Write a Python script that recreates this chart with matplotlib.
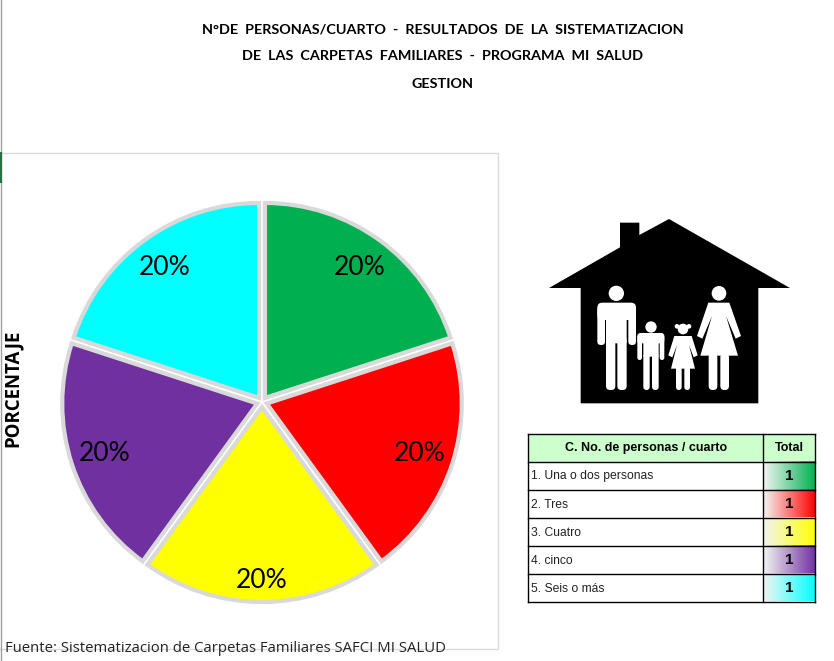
from matplotlib import pyplot as plt
from matplotlib.patches import Circle, FancyBboxPatch, Polygon, Rectangle
import numpy as np
from matplotlib.colors import to_rgb

# data
categorias = ["1. Una o dos personas", "2. Tres", "3. Cuatro", "4. cinco", "5. Seis o más"]
totales = [1, 1, 1, 1, 1]
colores = ["#00B050", "#FF0000", "#FFFF00", "#7030A0", "#00FFFF"]
encabezados = ["C. No. de personas / cuarto", "Total"]
titulo = ["N°DE  PERSONAS/CUARTO  -  RESULTADOS  DE  LA  SISTEMATIZACION",
          "DE  LAS  CARPETAS  FAMILIARES  -  PROGRAMA  MI  SALUD",
          "GESTION"]
fuente = "Fuente: Sistematizacion de Carpetas Familiares SAFCI MI SALUD"

W, H = 834, 661

fig = plt.figure(figsize=(W / 100, H / 100), dpi=100, facecolor="white")

# background layer, in pixel coordinates of the page
bg = fig.add_axes([0, 0, 1, 1], zorder=0)
bg.set_xlim(0, W)
bg.set_ylim(H, 0)
bg.axis("off")
bg.add_patch(Rectangle((-3, 153), 501, 496, fc="white", ec="#D9D9D9", lw=1))
bg.plot([0.5, 0.5], [0, H], color="#A0A0A0", lw=1)
bg.plot([0.5, 0.5], [153, 182], color="#217346", lw=1.5)

# pie
cx, cy, half = 262, 402, 220
ax = fig.add_axes([(cx - half) / W, 1 - (cy + half) / H, 2 * half / W, 2 * half / H], zorder=1)
ax.patch.set_alpha(0)
wedges, textos, pcts = ax.pie(
    totales, colors=colores, startangle=90, counterclock=False,
    explode=[0.025] * 5, radius=0.975, autopct="%1.0f%%", pctdistance=0.825,
    wedgeprops={"edgecolor": "#D9D9D9", "linewidth": 3},
    textprops={"fontsize": 19, "family": "Lato", "color": "black"},
)
# the bottom label sits lower than the others in the reference
pcts[2].set_y(pcts[2].get_position()[1] - 0.065)
ax.set_xlim(-1.1, 1.1)
ax.set_ylim(-1.1, 1.1)
ax.axis("off")

# top layer: title, table, house
top = fig.add_axes([0, 0, 1, 1], zorder=2)
top.patch.set_alpha(0)
top.set_xlim(0, W)
top.set_ylim(H, 0)
top.axis("off")

for linea, y in zip(titulo, [29, 56, 84]):
    top.text(443, y, linea, ha="center", va="center", fontsize=10.4, family="Lato",
             fontweight="bold", color="black")

top.text(13, 388, "PORCENTAJE", rotation=90, ha="center", va="center", fontsize=13.4,
         fontweight="bold", family="Open Sans")
top.text(5, 648, fuente, ha="left", va="center", fontsize=10.7, family="Open Sans", color="#222222")

# table
x0, x1, x2 = 528.5, 763, 815.5
filas_y = [434, 461.5, 489.5, 517.5, 545.5, 573.5, 601.5]
top.add_patch(Rectangle((x0, filas_y[0]), x2 - x0, filas_y[1] - filas_y[0], fc="#CCFFCC", ec="none"))
top.text((x0 + x1) / 2, (filas_y[0] + filas_y[1]) / 2 + 0.5, encabezados[0], ha="center", va="center",
         fontsize=9, fontweight="bold", family="Liberation Sans")
top.text((x1 + x2) / 2, (filas_y[0] + filas_y[1]) / 2 + 0.5, encabezados[1], ha="center", va="center",
         fontsize=9, fontweight="bold", family="Liberation Sans")
for i, (cat, tot, col) in enumerate(zip(categorias, totales, colores)):
    ya, yb = filas_y[i + 1], filas_y[i + 2]
    grad = np.linspace(0, 1, 64)[None, :, None]
    img = (1 - grad) * np.array([0.95, 0.96, 0.95]) + grad * np.array(to_rgb(col))
    top.imshow(img, extent=(x1, x2, yb, ya), aspect="auto", zorder=1)
    top.text(x0 + 3, (ya + yb) / 2 + 1, cat, ha="left", va="center", fontsize=8.7,
             family="Liberation Sans", color="#222222")
    top.text((x1 + x2) / 2, (ya + yb) / 2, str(tot), ha="center", va="center", fontsize=11,
             fontweight="bold", family="Liberation Sans", zorder=3)
for y in filas_y:
    top.plot([x0, x2], [y, y], color="black", lw=1, zorder=2)
for x in (x0, x1, x2):
    top.plot([x, x], [filas_y[0], filas_y[-1]], color="black", lw=1, zorder=2)
top.set_xlim(0, W)
top.set_ylim(H, 0)


# house icon, coordinates taken from the zoomed crop
def z(x, y):
    return 540 + x / 3, 210 + y / 3


def caja(xa, ya, xb, yb, r=6):
    a = z(xa, ya)
    b = z(xb, yb)
    top.add_patch(FancyBboxPatch((a[0] + r, a[1] + r), b[0] - a[0] - 2 * r, b[1] - a[1] - 2 * r,
                                 boxstyle="round,pad=%g,rounding_size=%g" % (r, r),
                                 fc="white", ec="none", zorder=6))


def poli(puntos, color="white", zo=6):
    top.add_patch(Polygon([z(*p) for p in puntos], closed=True, fc=color, ec="none", zorder=zo))


def cabeza(x, y, r):
    top.add_patch(Circle(z(x, y), r / 3, fc="white", ec="none", zorder=6))


poli([(27, 234), (240, 112), (240, 38), (298, 38), (298, 75), (387, 27), (750, 234), (655, 234),
      (655, 580), (122, 580), (122, 234)], color="black", zo=5)

# man
cabeza(229, 250, 23)
caja(172, 278, 288, 330, r=5)
caja(172, 290, 195, 405, r=3.5)
caja(265, 290, 288, 405, r=3.5)
caja(198, 290, 260, 400, r=1)
caja(198, 380, 226, 540, r=4)
caja(232, 380, 260, 540, r=4)
# boy
cabeza(333, 351, 17)
caja(292, 369, 373, 400, r=3)
caja(292, 375, 306, 450, r=2.3)
caja(359, 375, 373, 450, r=2.3)
caja(310, 375, 356, 440, r=1)
caja(310, 430, 329, 540, r=3)
caja(336, 430, 356, 540, r=3)
# girl
cabeza(429, 357, 16)
cabeza(411, 349, 7)
cabeza(447, 349, 7)
poli([(403, 378), (455, 378), (473, 436), (461, 442), (447, 405), (465, 476), (393, 476),
      (411, 405), (397, 442), (385, 436)])
caja(408, 470, 425, 540, r=2.8)
caja(433, 470, 450, 540, r=2.8)
# woman
cabeza(537, 250, 22)
poli([(505, 278), (568, 278), (603, 378), (587, 386), (558, 318), (594, 437), (481, 437),
      (516, 318), (487, 386), (471, 378)])
caja(506, 430, 532, 540, r=4)
caja(541, 430, 567, 540, r=4)

fig.savefig("out.png", dpi=100)
